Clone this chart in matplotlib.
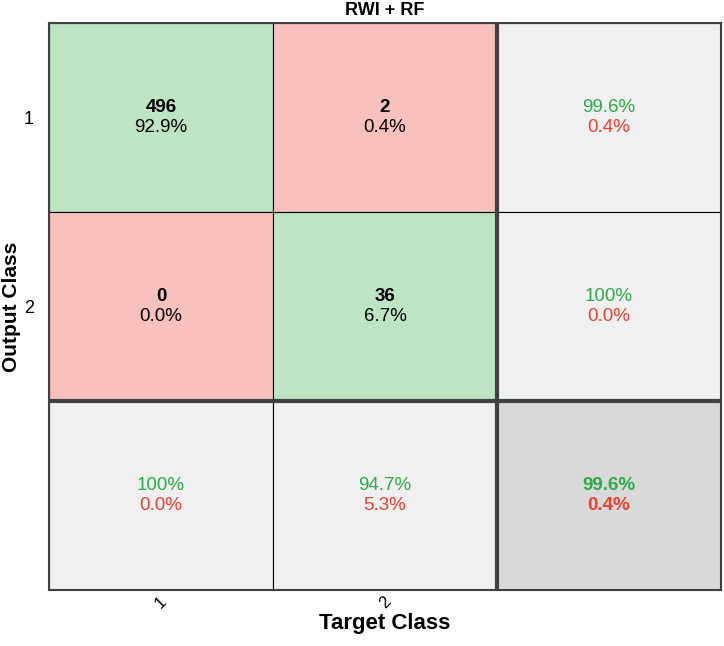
import numpy as np
import matplotlib
matplotlib.use("Agg")
import matplotlib.pyplot as plt
from matplotlib.patches import Rectangle

plt.rcParams['font.family'] = ['Liberation Sans', 'DejaVu Sans']

# confusion counts: rows = output class, cols = target class
classes = ['1', '2']
counts = np.array([[496, 2],
                   [0, 36]])
title = 'RWI + RF'

green_bg = '#BDE5C4'
red_bg = '#F8C1BE'
grey_bg = '#F0F0F0'
dark_bg = '#D9D9D9'
green_tx = '#2DAA48'
red_tx = '#E8412F'

total = counts.sum()
n = len(classes)

fig = plt.figure(figsize=(7.24, 6.46), dpi=100)
ax = fig.add_axes([49/724, 56/646, 672/724, 567/646])

def cell(col, row, color):
    ax.add_patch(Rectangle((col + 0.5, row + 0.5), 1, 1, facecolor=color,
                           edgecolor='black', linewidth=0.8, zorder=1))

def two_lines(col, row, top, bottom, c1, c2, bold1, bold2):
    ax.annotate(top, (col + 1, row + 1), xytext=(0, 7.5), textcoords='offset points',
                ha='center', va='center', fontsize=13.5, color=c1,
                fontweight='bold' if bold1 else 'normal', zorder=3)
    ax.annotate(bottom, (col + 1, row + 1), xytext=(0, -7.5), textcoords='offset points',
                ha='center', va='center', fontsize=13.5, color=c2,
                fontweight='bold' if bold2 else 'normal', zorder=3)

# main cells
for i in range(n):
    for j in range(n):
        cell(j, i, green_bg if i == j else red_bg)
        two_lines(j, i, str(counts[i, j]), '%.1f%%' % (100 * counts[i, j] / total),
                  'black', 'black', True, False)

def fmt(p):
    return '100%' if round(p, 1) == 100 else '%.1f%%' % p

# row summaries (precision)
for i in range(n):
    p = 100 * counts[i, i] / counts[i].sum()
    cell(n, i, grey_bg)
    two_lines(n, i, fmt(p), fmt(100 - p), green_tx, red_tx, False, False)

# column summaries (recall)
for j in range(n):
    p = 100 * counts[j, j] / counts[:, j].sum()
    cell(j, n, grey_bg)
    two_lines(j, n, fmt(p), fmt(100 - p), green_tx, red_tx, False, False)

acc = 100 * np.trace(counts) / total
cell(n, n, dark_bg)
two_lines(n, n, fmt(acc), fmt(100 - acc), green_tx, red_tx, True, True)

# thick separators
ax.axvline(n + 0.5, color='#404040', linewidth=3, zorder=2)
ax.axhline(n + 0.5, color='#404040', linewidth=3, zorder=2)

ax.set_xlim(0.5, n + 1.5)
ax.set_ylim(n + 1.5, 0.5)
ax.set_xticks(range(1, n + 1))
ax.set_xticklabels(classes, rotation=45, fontsize=12)
ax.set_yticks(range(1, n + 1))
ax.set_yticklabels(classes, fontsize=13)
ax.tick_params(axis='x', length=0, pad=3)
ax.tick_params(axis='y', length=0, pad=11)
for s in ax.spines.values():
    s.set_color('#404040')
    s.set_linewidth(1.5)
    s.set_zorder(4)

ax.set_xlabel('Target Class', fontsize=16, fontweight='bold', labelpad=1)
ax.set_ylabel('Output Class', fontsize=15, fontweight='bold', labelpad=2)
ax.set_title(title, fontsize=13, fontweight='bold', pad=6)

fig.savefig('out.png', dpi=100)
